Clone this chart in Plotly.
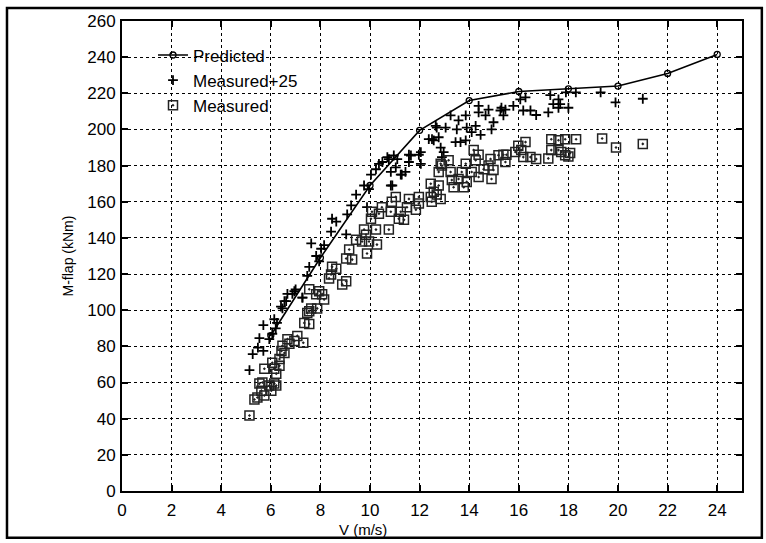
import plotly.graph_objects as go

# Predicted curve
pred_v = [6, 8, 10, 12, 14, 16, 18, 20, 22, 24]
pred_m = [86, 129, 169, 199.5, 216, 221, 222.5, 224, 231, 241.5]

# Measured + 25 (plus markers)
plus_v = [5.14, 5.27, 5.48, 5.7, 5.54, 5.7, 5.94, 6.06, 6.14, 6.2, 6.25, 6.41, 6.55, 6.67, 6.87, 7.0,
          7.28, 7.47, 7.55, 7.83, 7.95, 6.47, 6.62, 6.95, 7.27, 7.63, 8.03, 8.15, 8.43, 8.47, 8.64,
          9.04, 9.08, 9.24, 9.44, 9.76, 9.88, 9.96, 10.04, 10.24, 10.36, 10.84, 10.76, 10.96, 11.04,
          11.28, 11.43, 11.65, 11.97, 12.05, 12.5, 12.85, 12.97, 12.9, 12.65, 13.05,
          10.5, 10.7, 10.84, 10.9, 11.1, 11.24, 11.57, 11.57, 12.05, 12.37, 12.57, 12.77, 12.69,
          13.25, 13.45, 13.57, 13.65, 13.86, 13.5, 13.86, 13.9, 14.1, 14.26, 14.38, 14.46, 14.38,
          14.66, 14.78, 14.98, 14.9, 15.26, 15.38, 15.78,
          15.3, 15.46, 16.06, 16.27, 16.18, 16.47, 16.7, 17.27, 17.19, 17.39, 17.6, 17.67, 17.6,
          18.0, 17.9, 18.3, 19.3, 19.9, 21.0]
plus_m = [66.9, 75.7, 79.3, 77.5, 84.6, 91.8, 84, 87, 95, 90, 93, 102, 105, 109, 109, 111.5,
          107, 119, 124, 130, 127, 101, 105, 110.5, 107, 137, 134, 136, 143.5, 150.6, 149,
          142, 153, 158, 164, 169, 157, 167, 175, 178, 181, 169, 183.6, 185.6, 179,
          175, 176.5, 185.6, 186, 181, 194.6, 190, 187.5, 184.7, 202, 201,
          182, 184.7, 176.5, 169, 183.6, 175, 186, 182, 187.5, 194.6, 194, 195.7, 201,
          207.8, 193, 205, 193, 194, 200, 207.8, 201, 198.5, 202, 209.5, 197, 213,
          207.8, 211, 204, 200, 210.5, 207.8, 213,
          212, 211, 216.6, 217.7, 210.5, 210.5, 208, 219, 209.5, 214, 216.6, 214, 212,
          212, 220.5, 220.5, 220.5, 215, 217]

# Measured (square markers)
sq_v = [5.14, 5.34, 5.46, 5.54, 5.66, 5.62, 5.74, 5.74, 5.94, 6.02, 6.14, 6.22, 6.06, 6.14, 6.22,
        6.35, 6.35, 6.43, 6.47, 6.55, 6.67, 6.75, 6.95, 7.07, 7.31, 7.35, 7.55, 7.47, 7.63, 7.87,
        7.55, 7.95, 8.07, 8.15, 8.35, 8.47, 7.83, 7.55, 8.43, 8.88, 9.04, 8.64, 9.04, 9.16, 9.28,
        9.44, 9.68, 9.76, 9.84, 9.96, 9.88, 10.28, 10.24, 10.04, 10.08, 10.36, 10.48, 10.76, 10.84,
        10.88, 11.04, 11.24, 11.16, 11.37, 11.49, 11.57, 11.85, 11.97, 11.97, 12.49, 12.45, 12.77,
        12.69, 12.85, 12.77, 12.9, 12.45, 12.57, 12.85, 13.17, 13.25, 13.3, 13.37, 13.57, 13.7,
        13.78, 13.9, 13.86, 14.1, 14.26, 14.18, 14.38, 14.38, 14.58, 14.78, 14.86, 14.9, 14.98,
        15.18, 15.38, 15.46, 15.86, 15.5, 15.98, 16.27, 16.1, 16.18, 16.47, 16.7, 17.19, 17.31,
        17.31, 17.6, 17.87, 17.6, 17.71, 17.87, 18.07, 18.0, 18.31, 19.36, 19.92, 21.0]
sq_m = [41.8, 50.6, 51.7, 59.4, 60, 55.5, 52.8, 67.6, 58.3, 55.5, 59.4, 58.3, 70.9, 67.6, 64.9,
        69.3, 73, 77.5, 80.3, 76.4, 84, 81.4, 83, 85.8, 82, 93, 92.4, 98.4, 101, 101,
        111.6, 110.5, 108.9, 106, 117.6, 124, 108.9, 99.5, 119.8, 114.3, 116, 123, 128.6, 133.6, 128,
        139, 138, 144.6, 141.8, 138, 131.4, 136.3, 144.6, 150.6, 154.5, 153.4, 157, 144.6, 154.5,
        160, 162.7, 154.5, 150.6, 150, 157, 161.6, 155.6, 162.7, 159, 160, 170, 169,
        164, 161.6, 176.5, 180, 162.7, 165.5, 181, 183, 176.5, 172, 168, 172.6, 176.5,
        168, 171, 181, 176.5, 183, 188.6, 186, 173.7, 178, 180, 183.6, 172.6, 177.6,
        185.8, 186, 182, 187.5, 186, 191, 193, 188.6, 184.7, 184.7, 183.6, 184, 194.6,
        188.6, 194, 194.6, 188.6, 187.5, 185.8, 187, 185, 194.6, 195, 190, 192]

x_ticks = list(range(0, 25, 2))
y_ticks = list(range(0, 261, 20))

FONT = "Liberation Sans, Arial, sans-serif"

fig = go.Figure()
fig.add_trace(go.Scatter(
    x=pred_v, y=pred_m, mode="lines+markers", name="Predicted",
    line=dict(color="black", width=1.6),
    marker=dict(symbol="circle-open", size=6, color="black", line=dict(width=1.3)),
))
fig.add_trace(go.Scatter(
    x=plus_v, y=plus_m, mode="markers", name="Measured+25",
    marker=dict(symbol="cross-thin", size=7, color="black", line=dict(width=1.8, color="black")),
))
fig.add_trace(go.Scatter(
    x=sq_v, y=sq_m, mode="markers", name="Measured",
    marker=dict(symbol="square-open-dot", size=9, color="#222", line=dict(width=1.5, color="#222")),
))

axis_common = dict(
    showline=True, linecolor="black", linewidth=2, mirror="ticks",
    ticks="inside", ticklen=6, tickwidth=1.5, tickcolor="black",
    showgrid=True, gridcolor="black", gridwidth=1, griddash="dot",
    zeroline=False, tickfont=dict(family=FONT, size=17, color="black"),
)

fig.update_xaxes(range=[0, 25], tickvals=x_ticks, ticktext=[str(t) for t in x_ticks],
                 ticklabelstandoff=3, **axis_common)
fig.update_yaxes(range=[0, 260], tickvals=y_ticks, ticktext=[str(t) for t in y_ticks],
                 ticklabelstandoff=1,
                 title=dict(text="M-flap (kNm)", font=dict(family=FONT, size=14, color="black"), standoff=10),
                 **axis_common)

fig.add_annotation(text="V (m/s)", x=9.7, y=-0.06, xref="x", yref="paper", yanchor="top",
                   showarrow=False, font=dict(family=FONT, size=15, color="black"))

# outer frame
fig.add_shape(type="rect", xref="paper", yref="paper",
              x0=-0.1855, x1=1.032, y0=-0.0994, y1=1.0275,
              line=dict(color="black", width=2.5), fillcolor="rgba(0,0,0,0)", layer="below")

fig.update_layout(
    width=766, height=543,
    margin=dict(l=122, r=24, t=18, b=52),
    paper_bgcolor="white", plot_bgcolor="white",
    showlegend=True,
    legend=dict(x=0.05, y=0.965, xanchor="left", yanchor="top",
                bgcolor="rgba(0,0,0,0)", borderwidth=0,
                font=dict(family=FONT, size=17, color="black"),
                tracegroupgap=0, itemwidth=30),
    font=dict(family=FONT, color="black"),
)

fig.write_html("out.html")
